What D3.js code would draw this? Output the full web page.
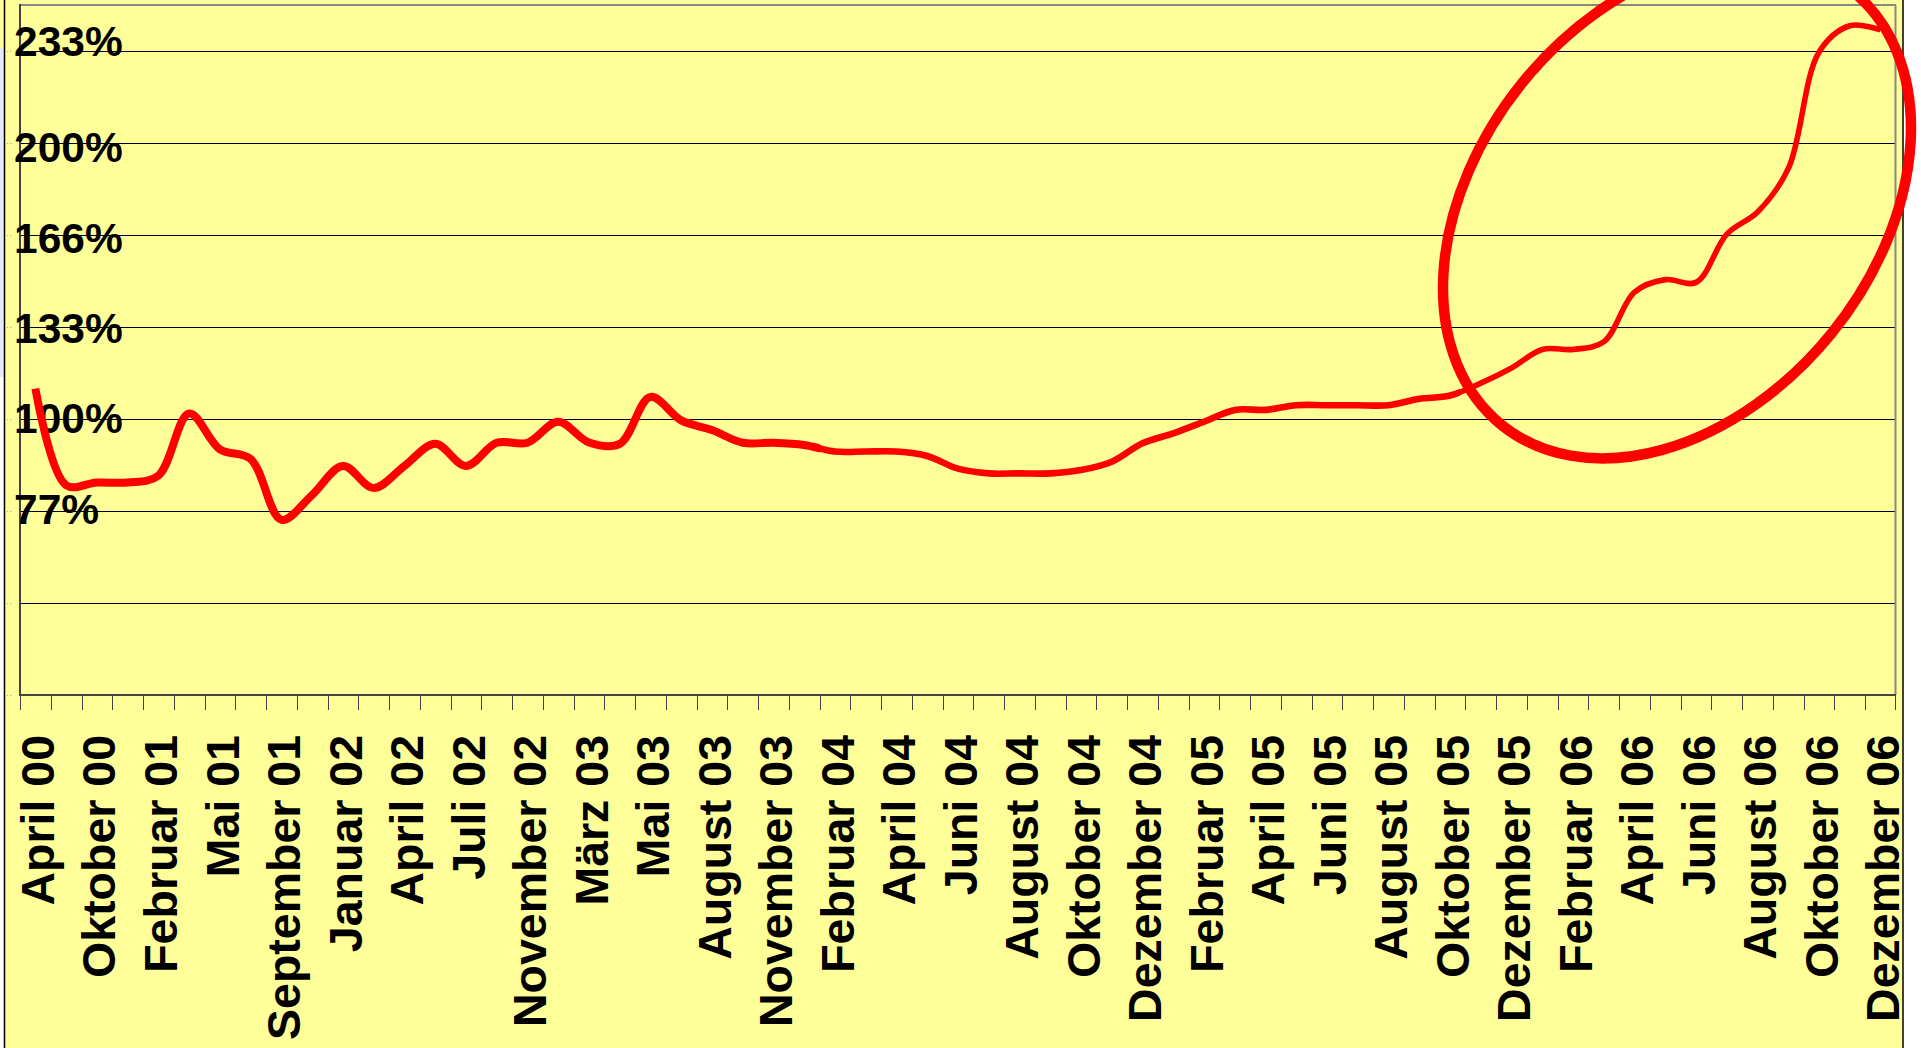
<!DOCTYPE html>
<html>
<head>
<meta charset="utf-8">
<script src="https://cdn.jsdelivr.net/npm/d3@7"></script>
<style>
html,body{margin:0;padding:0;background:#ffffff;overflow:hidden}
svg{display:block}
</style>
</head>
<body>
<svg id="chart" width="1921" height="1048"></svg>
<script>
// ---------- data ----------
const tickLabels = ["April 00","Oktober 00","Februar 01","Mai 01","September 01","Januar 02","April 02","Juli 02",
  "November 02","März 03","Mai 03","August 03","November 03","Februar 04","April 04","Juni 04","August 04",
  "Oktober 04","Dezember 04","Februar 05","April 05","Juni 05","August 05","Oktober 05","Dezember 05",
  "Februar 06","April 06","Juni 06","August 06","Oktober 06","Dezember 06"];
const values = [111, 76, 77, 77, 79.5, 102, 89, 85.5, 63.5, 72.5,
  83, 75, 83, 91, 83, 91.4, 91.4, 99, 91.5, 91,
  108, 99.5, 96, 91.4, 91.4, 90.6, 88.2, 88.2, 88.2, 86.6,
  82, 80.3, 80.3, 80.3, 81.5, 84.5, 91.2, 94.8, 99, 103.3,
  103.3, 105, 105, 105, 105, 107.3, 108.5, 113, 118.5, 125.2,
  125.2, 128, 146, 150.5, 149.5, 167, 175, 190.8, 233, 242.5, 241];
const gridValues = [33.33, 66.67, 100, 133.33, 166.67, 200, 233.33];
const yLabelValues = [233.33, 200, 166.67, 133.33, 100, 66.67];
const yLabels = ["233%","200%","166%","133%","100%","77%"];

// ---------- layout ----------
const W = 1921, H = 1048;
const plot = {left: 20, right: 1896, top: 5, bottom: 695};
const FONT = "'Liberation Sans', Arial, Helvetica, sans-serif";
const svg = d3.select("#chart");
const defs = svg.append("defs");

const x = d3.scaleBand().domain(d3.range(values.length)).range([plot.left, plot.right]).padding(0);
const y = d3.scaleLinear().domain([0, 250]).range([plot.bottom, plot.top]);
const cx = i => x(i) + x.bandwidth() / 2;

// backgrounds
svg.append("rect").attr("x", 0).attr("y", 0).attr("width", W).attr("height", H).attr("fill", "#ffffff");
svg.append("rect").attr("x", 0).attr("y", 0).attr("width", 1903).attr("height", H).attr("fill", "#ffff99");
svg.append("rect").attr("x", 0).attr("y", 48).attr("width", 3.5).attr("height", 329).attr("fill", "#e8e8f6");
svg.append("rect").attr("x", 0).attr("y", 377).attr("width", 3.5).attr("height", H - 377).attr("fill", "#ffffff");
// outer frame lines
svg.append("line").attr("x1", 4.5).attr("x2", 4.5).attr("y1", 0).attr("y2", H).attr("stroke", "#000").attr("stroke-width", 1.5);
svg.append("line").attr("x1", 1903).attr("x2", 1903).attr("y1", 0).attr("y2", H).attr("stroke", "#000").attr("stroke-width", 1.5);

// gridlines
svg.append("g").selectAll("line").data(gridValues).join("line")
  .attr("x1", plot.left).attr("x2", plot.right - 1)
  .attr("y1", d => Math.round(y(d)) + 0.5).attr("y2", d => Math.round(y(d)) + 0.5)
  .attr("stroke", "#000").attr("stroke-width", 1);

// plot border top/right
svg.append("line").attr("x1", plot.left).attr("x2", plot.right).attr("y1", plot.top).attr("y2", plot.top)
  .attr("stroke", "#888").attr("stroke-width", 2);
svg.append("line").attr("x1", plot.right - 0.5).attr("x2", plot.right - 0.5).attr("y1", plot.top).attr("y2", plot.bottom)
  .attr("stroke", "#888").attr("stroke-width", 2);

// left little tick dots
svg.append("g").selectAll("line").data([0].concat(gridValues)).join("line")
  .attr("x1", 7).attr("x2", 13)
  .attr("y1", d => Math.round(y(d)) + 0.5).attr("y2", d => Math.round(y(d)) + 0.5)
  .attr("stroke", "#aaa").attr("stroke-width", 1.2).attr("stroke-dasharray", "1.2,2");

// axes lines
svg.append("line").attr("x1", plot.left).attr("x2", plot.left).attr("y1", plot.top - 1).attr("y2", plot.bottom + 1)
  .attr("stroke", "#444").attr("stroke-width", 2);
svg.append("line").attr("x1", plot.left).attr("x2", plot.right).attr("y1", plot.bottom).attr("y2", plot.bottom)
  .attr("stroke", "#444").attr("stroke-width", 2);

// x tick marks (between categories)
const tickPos = d3.range(values.length).map(i => x(i)).concat([plot.right - 1]);
svg.append("g").selectAll("line").data(tickPos).join("line")
  .attr("x1", d => Math.round(d) + 0.5).attr("x2", d => Math.round(d) + 0.5)
  .attr("y1", plot.bottom).attr("y2", plot.bottom + 15)
  .attr("stroke", "#444").attr("stroke-width", 1);

// x labels
defs.append("clipPath").attr("id", "lblclip").append("rect")
  .attr("x", 0).attr("y", 0).attr("width", 1902).attr("height", H);
const xAxis = d3.axisBottom(x)
  .tickValues(d3.range(0, values.length, 2))
  .tickFormat(i => tickLabels[i / 2])
  .tickSize(0).tickPadding(0);
const gx = svg.append("g").attr("clip-path", "url(#lblclip)")
  .append("g").attr("transform", `translate(0,${plot.bottom})`).call(xAxis);
gx.select(".domain").remove();
gx.selectAll(".tick text")
  .attr("font-family", FONT).attr("font-weight", "bold").attr("font-size", 46.5).attr("fill", "#000")
  .attr("text-anchor", "end")
  .attr("x", 0).attr("y", 0).attr("dy", "0.4em")
  .attr("transform", "translate(0,40) rotate(-90)");

// y labels
const nudge = [5, 19, 18, 16, 14, 13];
svg.append("g").selectAll("text").data(yLabels).join("text")
  .attr("x", 14).attr("y", (d, i) => y(yLabelValues[i]) + nudge[i])
  .attr("font-family", FONT).attr("font-weight", "bold").attr("font-size", 42.5).attr("fill", "#000")
  .text(d => d);

// data line (stroke gets slightly thinner to the right, as in the source)
const line = d3.line().x((d, i) => cx(i)).y(d => y(d)).curve(d3.curveCatmullRom.alpha(0.5));
const bands = [[0, 820, 8], [820, 1460, 6.6], [1460, W, 5.6]];
bands.forEach((b, k) => {
  defs.append("clipPath").attr("id", "lc" + k).append("rect")
    .attr("x", b[0]).attr("y", 0).attr("width", b[1] - b[0]).attr("height", H);
  svg.append("path").datum(values)
    .attr("clip-path", `url(#lc${k})`)
    .attr("d", line).attr("fill", "none").attr("stroke", "#ff0000")
    .attr("stroke-width", b[2]).attr("stroke-linejoin", "round").attr("stroke-linecap", "butt");
});

// hand-drawn highlight ellipse
svg.append("ellipse")
  .attr("cx", 0).attr("cy", 0).attr("rx", 279).attr("ry", 199)
  .attr("transform", "translate(1677,208) rotate(-51)")
  .attr("fill", "none").attr("stroke", "#ff0000").attr("stroke-width", 10.5);
</script>
</body>
</html>
